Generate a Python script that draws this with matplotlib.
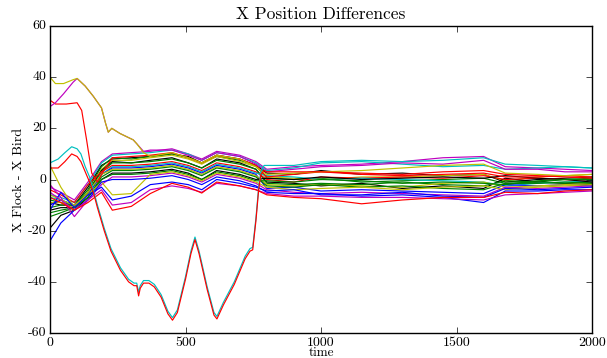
import matplotlib
matplotlib.use("Agg")
import matplotlib.pyplot as plt

plt.style.use("classic")
plt.rcParams["font.family"] = ["cmr10", "DejaVu Serif"]
plt.rcParams["axes.unicode_minus"] = False
plt.rcParams["mathtext.fontset"] = "cm"

# shared time grid for the bundle of birds
t_grid = [0, 40, 90, 140, 190, 230, 300, 370, 450, 510, 560, 615, 700, 760,
          800, 900, 1000, 1150, 1300, 1450, 1600, 1680, 1800, 1900, 2000]

bundle = {
    "m1": [-3, -5, -8, -1, 7, 10, 10.5, 11, 12, 10, 8, 11, 9.5, 7,
           4, 5, 5.5, 6, 7, 8.5, 9, 5, 4.5, 4, 3.5],
    "c1": [-6, -7, -9, -2, 6.5, 9.5, 10, 10.5, 11.5, 10, 7.5, 10.5, 9, 6.5,
           3.5, 4.5, 6.5, 7, 6, 5, 5.5, 4, 4.5, 5, 4.5],
    "k3": [-9, -10, -10, -3, 5.5, 8, 8.5, 9, 10, 9, 6.5, 9.5, 8, 5.5,
           2.5, 2, 3.5, 2, 2.5, 1.5, 2, -1, 0, 0.5, 1],
    "g1": [-8, -9, -10, -4, 5, 8.5, 8, 9, 10, 8.5, 6.5, 9, 7.5, 5.5,
           0.5, 0, 0.5, -1, -0.5, 0, 0.5, -1.5, -1, 0, 0.5],
    "y1": [-9, -9, -11, -5, 4, 7.5, 7.5, 8.5, 9.5, 8, 6, 9, 7, 5,
           1, 0.5, 0, 1, 1, 1.5, 2, -0.5, 1, 1.5, 2],
    "k1": [-12, -11, -11, -5, 3.5, 7, 6.5, 7.5, 8.5, 6.5, 4.5, 8, 6.5, 4,
           -1, -1.5, -2.5, -1.5, -3.5, -2.5, -3.5, 0.5, -1, -1.5, -2],
    "g2": [-11, -10, -10, -5, 3, 6.5, 6.5, 7, 8, 6.5, 4.5, 7.5, 6, 4,
           -1.5, -2, -1.5, -2, -1, -2, -2.5, -0.5, -1, -1.5, -1],
    "r1": [-4, -6, -9, -2, 3, 5.5, 5.5, 6, 7, 5.5, 3.5, 6.5, 5, 3,
           0, -1, 1, 0.5, 1, 0.5, 1.5, 0, 0.5, 0, -0.5],
    "c2": [-7, -8, -10, -6, 2, 5, 5, 5.5, 6.5, 5, 3, 6, 4.5, 2.5,
           1.5, 1, 0, 0.5, 0, -0.5, -1, -2.5, -1.5, -1, -0.5],
    "b1": [-10, -8, -10, -6, 2, 4.5, 4.5, 5, 6, 4.5, 2.5, 5.5, 4, 2,
           -3.5, -3, -4.5, -4, -4.5, -5, -5.5, -2, -2.5, -2, -2.5],
    "y2": [5.5, -3, -11, -5, 2, 4, 4, 4.5, 5.5, 4, 2, 5, 3.5, 1.5,
           -2, -2.5, -2, -2.5, -3, -1.5, -1, -3, -2.5, -2, -1.5],
    "g3": [-14.5, -13, -11, -7, 1, 3.5, 3.5, 4, 5, 3.5, 1.5, 4.5, 3, 1,
           -2.5, -3, -2, -3, -2.5, -3.5, -4, -1.5, -1.5, -1, -1.5],
    "k2": [-19, -14, -12, -7, 0, 2.5, 2.5, 3, 4, 2.5, 0, 3.5, 2, 0,
           0.5, 0, 1, 0, 0.5, 1, 0.5, 1.5, 0.5, 0, -1],
    "g4": [-13, -12, -11, -7, 0, 2, 2, 2.5, 3.5, 2, 0, 3, 1.5, -0.5,
           -0.5, -1, 0, -0.5, -1.5, -1, -1.5, -2, -0.5, 0, 0],
    "m2": [-2, -7, -14.5, -8, -2, 1, 1, 1.5, 2.5, 1, -1, 2, 0.5, -1.5,
           -4, -5, -5.5, -5, -5.5, -6, -6.5, -3, -3.5, -3, -2.5],
    "y3": [-6, -8, -10, -6, -1, -6, -5.5, 2, 3, 1.5, -0.5, 2.5, 1, -1,
           -3, -4, -3.5, -3, -4, -3, -2.5, -4, -3, -2.5, -2],
    "b2": [-24, -17, -12, -8, -1, 0, 0, 0.5, 1.5, 0, -2, 1, -0.5, -2.5,
           -5, -5.5, -5.5, -6.5, -6, -7, -9, -4.5, -4.5, -4, -4],
    "b3": [-12, -5, -11, -6, -3, -8, -6.5, -2, -1, -2, -4, 0, -1.5, -3,
           -4.5, -4, -6, -6, -5, -6.5, -7, -3.5, -4, -3.5, -3],
    "m3": [-5, -8, -12, -8, -4, -10, -9, -4, -2.5, -3.5, -5, -1.5, -2.5, -4,
           -5.5, -6.5, -6.5, -7, -7, -7.5, -8, -6, -5.5, -5, -4.5],
    "r2": [-7, -9, -12, -9, -5, -12, -10.5, -5.5, -1.5, -3, -5.3, -1, -2.5, -4,
           -6, -7, -7.5, -9.5, -8, -7, -7, -5, -5.5, -4.5, -4],
}

# birds that start far from the flock
t_high = [0, 20, 50, 85, 100, 130, 160, 190, 205, 215, 228, 258, 307, 320, 345,
          370, 450, 510, 560, 615, 700, 760, 800, 900, 1000, 1150, 1300, 1450,
          1600, 1680, 1800, 1900, 2000]
yellow_high = [40, 37.5, 37.5, 39, 39.5, 36.5, 32.5, 28, 22, 18.5, 20, 18, 15.5,
               14, 10.5, 9, 10.5, 8.5, 6.5, 9.5, 8, 5, 2, 2.5, 3, 3.5, 4.5, 5.5,
               6, 2.5, 2, 1.5, 2]
magenta_high = [28.5, 30, 33.5, 38, 39.5, 36.5, 32.5, 28, 22, 18.5, 20, 18, 15.5,
                14, 11, 11.5, 11.5, 9.5, 7.5, 10.5, 9, 6, 3, 4, 5, 5.5, 6.5, 6,
                7.5, 4, 4, 3, 3]

t_red_high = [0, 20, 60, 100, 117, 135, 154, 175, 190, 230, 300, 370, 450, 510,
              560, 615, 700, 760, 800, 900, 1000, 1150, 1300, 1450, 1600, 1680,
              1800, 1900, 2000]
red_high = [31, 29.5, 29.5, 30, 27, 15.5, 2.5, -1, 2, 8.5, 9, 9.5, 10.5, 8.5,
            6.5, 9.5, 8, 5.5, 1, 2, 3, 2, 1.5, 2, 2.5, 1, 1, 1.5, 1]

# pair of birds that wander off
t_dip = [0, 30, 55, 80, 100, 114, 130, 146, 160, 175, 200, 225, 260, 290, 310,
         320, 327, 333, 345, 365, 385, 410, 435, 452, 470, 500, 520, 535, 550,
         580, 605, 616, 640, 680, 720, 738, 748, 760, 770, 778, 790,
         800, 900, 1000, 1150, 1300, 1450, 1600, 1680, 1800, 1900, 2000]
cyan_dip = [6.5, 8, 10.5, 12.8, 12, 10, 5, 1, -4, -10, -19, -27, -34.5, -39,
            -40.5, -40.5, -44, -41.5, -39.5, -39.5, -41, -45, -51.5, -54, -51,
            -38, -28, -22.5, -28, -42, -52, -53.5, -48, -40, -30, -27, -26.5,
            -15, -3, 3, 5.5,
            5.5, 5.5, 7, 7.5, 7, 7.5, 8.5, 6, 5.5, 5, 4.5]
red_dip = [4.5, 4.5, 7, 10, 9, 7, 3, -1, -5, -11, -20, -28, -35.5, -40, -41.5,
           -41.5, -45.5, -42.5, -40.5, -40.5, -42, -46, -52.5, -55, -52, -39,
           -29, -23.5, -29, -43, -53, -54.5, -49, -41, -31, -28, -27.5, -16, -4,
           2, 3.5,
           3, 3, 3, 2.5, 2, 3, 3.5, 2, 1.5, 1, 0.5]

bundle_colors = {"m1": "m", "c1": "c", "k3": "k", "g1": "g", "y1": "y", "k1": "k",
                 "g2": "g", "r1": "r", "c2": "c", "b1": "b", "y2": "y", "g3": "g",
                 "k2": "k", "g4": "g", "m2": "m", "y3": "y", "b2": "b", "b3": "b",
                 "m3": "m", "r2": "r"}

fig = plt.figure(figsize=(6.07, 3.58), dpi=100, facecolor="white")
ax = fig.add_axes([50 / 607, 25 / 358, 542 / 607, 307 / 358])

for name, vals in bundle.items():
    ax.plot(t_grid, vals, color=bundle_colors[name], lw=0.85)
ax.plot(t_red_high, red_high, color="r", lw=0.85)
ax.plot(t_high, magenta_high, color="m", lw=0.85)
ax.plot(t_high, yellow_high, color="y", lw=0.85)
ax.plot(t_dip, cyan_dip, color="c", lw=0.85)
ax.plot(t_dip, red_dip, color="r", lw=0.85)

ax.set_xlim(0, 2000)
ax.set_ylim(-60, 60)
ax.set_xticks([0, 500, 1000, 1500, 2000])
ax.set_yticks([-60, -40, -20, 0, 20, 40, 60])
ax.tick_params(labelsize=10, pad=2.5)
ax.set_title("X Position Differences", fontsize=12.5, pad=5)
ax.set_xlabel("time", fontsize=9.5, labelpad=-1)
ax.set_ylabel("X Flock - X Bird", fontsize=10, labelpad=2)

fig.savefig("out.png", dpi=100, facecolor="white")
